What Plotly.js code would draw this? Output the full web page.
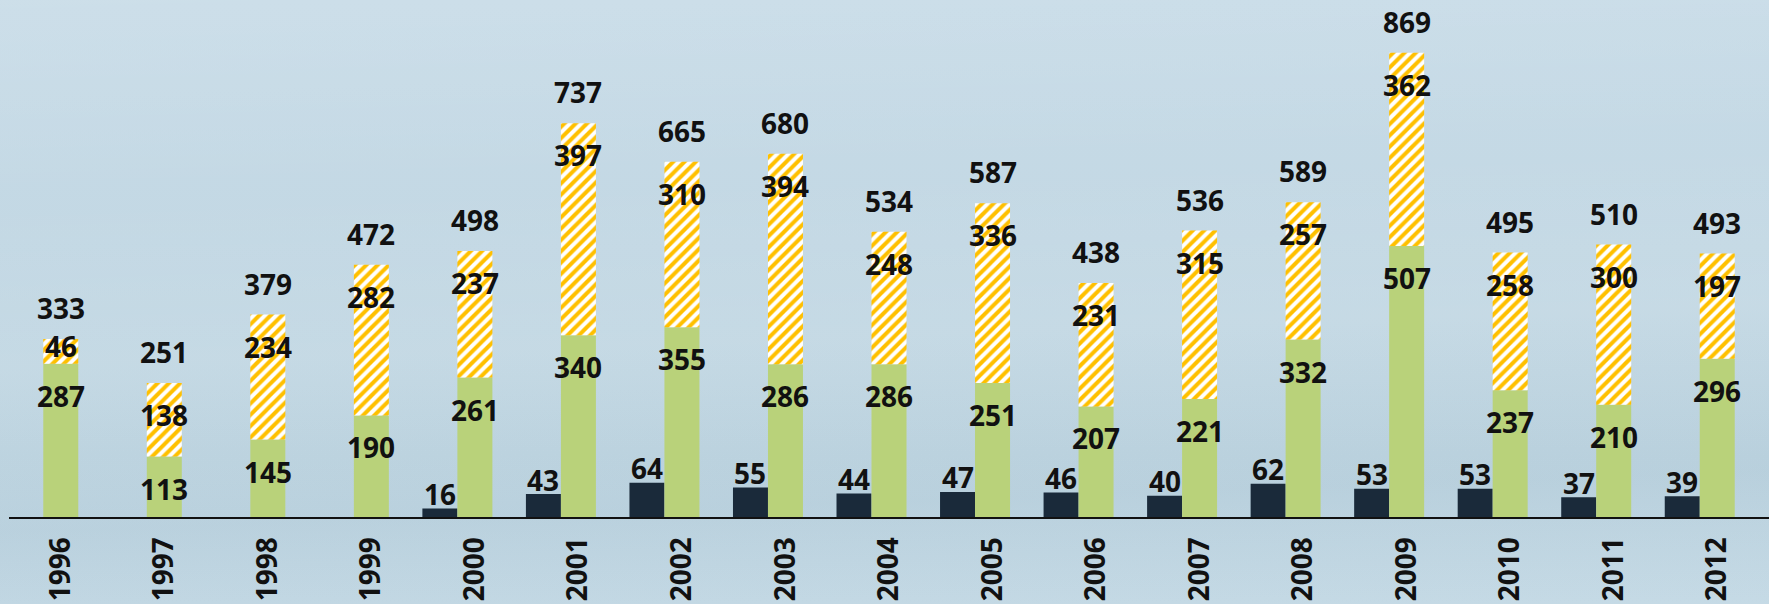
<!DOCTYPE html>
<html>
<head>
<meta charset="utf-8">
<script src="https://cdn.plot.ly/plotly-3.0.1.min.js"></script>
<style>
  html, body { margin: 0; padding: 0; }
  body {
    width: 1769px; height: 604px; overflow: hidden;
    background:
      linear-gradient(178deg, rgba(255,255,255,0.10) 0%, rgba(255,255,255,0) 30%, rgba(255,255,255,0.08) 55%, rgba(0,40,80,0.03) 80%, rgba(255,255,255,0.06) 100%),
      linear-gradient(180deg, #c7dbe7 0%, #c3d8e4 40%, #bed5e1 75%, #c2d8e4 100%);
  }
  #chart { width: 1769px; height: 604px; }
</style>
</head>
<body>
<div id="chart"></div>
<script>
// ---- data ----
const years   = [1996,1997,1998,1999,2000,2001,2002,2003,2004,2005,2006,2007,2008,2009,2010,2011,2012];
const darkVals   = [null,null,null,null,16,43,64,55,44,47,46,40,62,53,53,37,39];
const greenVals  = [287,113,145,190,261,340,355,286,286,251,207,221,332,507,237,210,296];
const yellowVals = [46,138,234,282,237,397,310,394,248,336,231,315,257,362,258,300,197];
const totals     = [333,251,379,472,498,737,665,680,534,587,438,536,589,869,495,510,493];

// ---- style ----
const W = 0.338;           // bar width (x units)
const YMAX = 967.6;
const PLOT_H = 517;
const PX = PLOT_H / YMAX;  // px per unit
const labelFont = {family: 'Open Sans, Lato, sans-serif', size: 28, color: '#111111', weight: 'bold'};

const traces = [
  {
    type: 'bar', name: 'dark', x: years, y: darkVals,
    width: W, offset: -1.5 * W,
    marker: {color: '#1a2a3a', line: {width: 0}},
    hoverinfo: 'skip'
  },
  {
    type: 'bar', name: 'green', x: years, y: greenVals,
    width: W, offset: -0.5 * W,
    marker: {color: '#b9d27a', line: {width: 0}},
    hoverinfo: 'skip'
  },
  {
    type: 'bar', name: 'yellow', x: years, y: yellowVals, base: greenVals,
    width: W, offset: -0.5 * W,
    marker: {
      color: '#ffffff',
      line: {width: 0},
      pattern: {shape: '/', fgcolor: '#ffc000', bgcolor: '#ffffff', size: 8, solidity: 0.5, fillmode: 'replace'}
    },
    hoverinfo: 'skip'
  }
];

const annotations = [];
function inside(segVal) {
  const segPx = segVal * PX;
  return segPx < 40 ? -segPx * 0.3 : -32;
}
years.forEach((yr, i) => {
  annotations.push({x: yr, y: totals[i], xref: 'x', yref: 'y', text: String(totals[i]),
    showarrow: false, yshift: 31, font: labelFont});
  annotations.push({x: yr, y: greenVals[i] + yellowVals[i], xref: 'x', yref: 'y', text: String(yellowVals[i]),
    showarrow: false, yshift: inside(yellowVals[i]), font: labelFont});
  annotations.push({x: yr, y: greenVals[i], xref: 'x', yref: 'y', text: String(greenVals[i]),
    showarrow: false, yshift: -32, font: labelFont});
  if (darkVals[i] !== null) {
    annotations.push({x: yr - W, y: darkVals[i], xref: 'x', yref: 'y', text: String(darkVals[i]),
      showarrow: false, yshift: 14.5, font: labelFont});
  }
});

const layout = {
  width: 1769, height: 604,
  margin: {l: 9, r: 0, t: 0, b: 87, pad: 0},
  paper_bgcolor: 'rgba(0,0,0,0)',
  plot_bgcolor: 'rgba(0,0,0,0)',
  barmode: 'overlay',
  showlegend: false,
  xaxis: {
    range: [1995.5, 2012.5],
    tickmode: 'array', tickvals: years, ticktext: years.map(String),
    tickangle: -90, ticks: '', ticklabelstandoff: 7,
    tickfont: labelFont,
    showline: true, linecolor: '#111111', linewidth: 2,
    showgrid: false, zeroline: false, fixedrange: true
  },
  yaxis: {
    range: [0, YMAX], visible: false, showgrid: false, zeroline: false, fixedrange: true
  },
  annotations: annotations
};

Plotly.newPlot('chart', traces, layout, {staticPlot: true, displayModeBar: false});
</script>
</body>
</html>
